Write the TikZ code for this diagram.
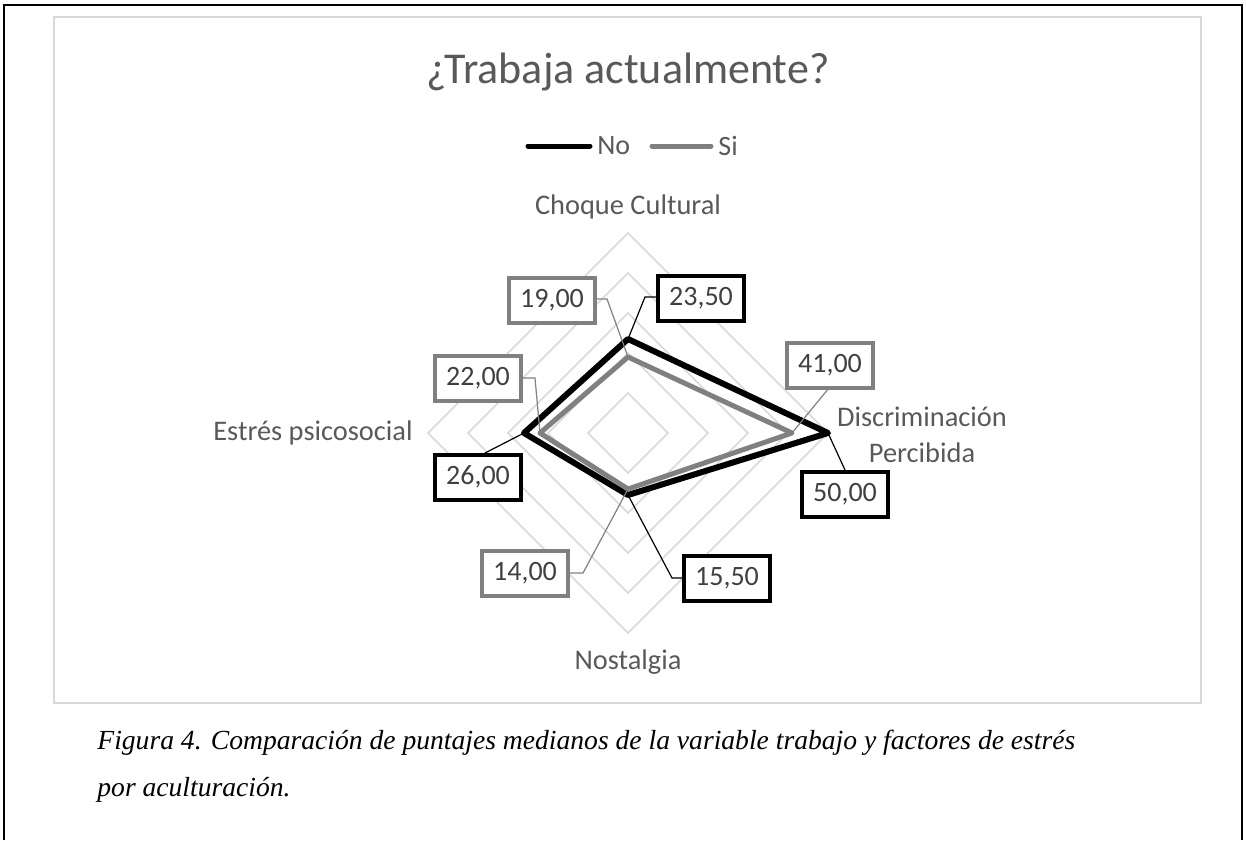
\documentclass[tikz,border=0pt]{standalone}
\usepackage{fontspec}
\setmainfont{Carlito}
\newfontfamily\capfont{Liberation Serif}
\usepackage{tikz}
\usetikzlibrary{arrows.meta}

\definecolor{webgray}{HTML}{D9D9D9}
\definecolor{sigray}{HTML}{808080}
\definecolor{txtgray}{HTML}{595959}
\definecolor{lblgray}{HTML}{404040}

\begin{document}
\begin{tikzpicture}[x=0.5pt, y=-0.5pt,
  webline/.style={draw=webgray, line width=0.75pt},
  nobox/.style={draw=black, line width=2pt, fill=white, inner sep=0pt,
    minimum width=43pt, minimum height=22.5pt, text=lblgray,
    font=\fontsize{14}{16}\selectfont},
  sibox/.style={nobox, draw=sigray},
  axlbl/.style={text=txtgray, align=center, font=\fontsize{14.2}{18}\selectfont},
  noline/.style={draw=black, line width=3pt, line join=round},
  siline/.style={draw=sigray, line width=2.5pt, line join=round},
  nolead/.style={draw=black, line width=0.6pt},
  silead/.style={draw=sigray, line width=0.6pt}]

\useasboundingbox (0,0) rectangle (1246,840);

% page frame and chart area

\draw[line width=0.6pt] (4,840) -- (4,5) -- (1242,5) -- (1242,840);
\draw[webline] (54,17) rectangle (1201,703);

% title and legend

\node[text=txtgray, font=\fontsize{22}{26}\selectfont] (title) at (628,72) {¿Trabaja actualmente?};

\draw[line width=2.5pt, line cap=round] (528,146) -- (590,146);
\node[anchor=west, inner sep=0pt, text=txtgray, font=\fontsize{14}{16}\selectfont] (legno) at (597,146) {No};
\draw[line width=2.5pt, line cap=round, sigray] (652,146) -- (711,146);
\node[anchor=west, inner sep=0pt, text=txtgray, font=\fontsize{14}{16}\selectfont] (legsi) at (718,146) {Si};

% web

\draw[webline] (628,393) -- (668,433) -- (628,473) -- (588,433) -- cycle;
\draw[webline] (628,353) -- (708,433) -- (628,513) -- (548,433) -- cycle;
\draw[webline] (628,313) -- (748,433) -- (628,553) -- (508,433) -- cycle;
\draw[webline] (628,273) -- (788,433) -- (628,593) -- (468,433) -- cycle;
\draw[webline] (628,233) -- (828,433) -- (628,633) -- (428,433) -- cycle;

% axis names

\node[axlbl] (cc) at (628,207) {Choque Cultural};
\node[axlbl] (dp) at (922,435) {Discriminación\\Percibida};
\node[axlbl, anchor=east, inner sep=0pt] (ep) at (413,433) {Estrés psicosocial};
\node[axlbl] (nos) at (628,662) {Nostalgia};

% data points (4 px per unit)

\coordinate (pn0) at (628,339);
\coordinate (pn1) at (828,433);
\coordinate (pn2) at (628,495);
\coordinate (pn3) at (524,433);

\coordinate (ps0) at (628,357);
\coordinate (ps1) at (792,433);
\coordinate (ps2) at (628,489);
\coordinate (ps3) at (540,433);

% series

\draw[noline] (pn0) -- (pn1) -- (pn2) -- (pn3) -- cycle;
\draw[siline] (ps0) -- (ps1) -- (ps2) -- (ps3) -- cycle;

% leaders

\draw[nolead] (pn0) -- (645,297) -- (657,297);
\draw[silead] (ps0) -- (607,299) -- (596,299);
\draw[silead] (ps1) -- (829,388);
\draw[nolead] (pn1) -- (845,470);
\draw[silead] (ps3) -- (535,378) -- (520,378);
\draw[nolead] (pn3) -- (485,453);
\draw[silead] (ps2) -- (583,573) -- (568,573);
\draw[nolead] (pn2) -- (672,578) -- (683,578);

% value labels

\node[nobox] (n0) at (701,298) {23,50};
\node[sibox] (s0) at (552,300) {19,00};
\node[sibox] (s1) at (830,365) {41,00};
\node[nobox] (n1) at (845,494) {50,00};
\node[sibox] (s3) at (478,378) {22,00};
\node[nobox] (n3) at (478,477) {26,00};
\node[sibox] (s2) at (525,573) {14,00};
\node[nobox] (n2) at (727,578) {15,50};

% caption

\node[anchor=west, inner sep=0pt, font=\capfont\itshape\fontsize{13.8}{16}\selectfont] (cap1) at (97,743) {Figura 4. Comparación de puntajes medianos de la variable trabajo y factores de estrés};
\node[anchor=west, inner sep=0pt, font=\capfont\itshape\fontsize{13.8}{16}\selectfont] (cap2) at (97,790) {por aculturación.};

\end{tikzpicture}
\end{document}
